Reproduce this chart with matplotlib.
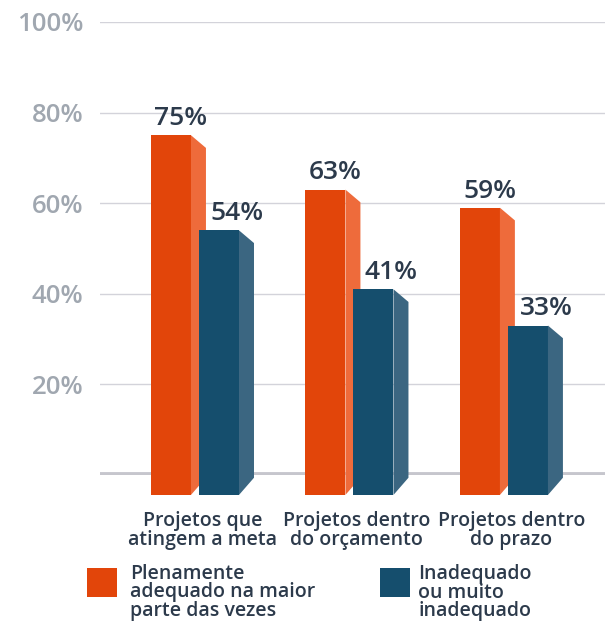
import matplotlib
matplotlib.use("Agg")
import matplotlib.pyplot as plt
from matplotlib.patches import Polygon, Rectangle

# data
categories = ["Projetos que\natingem a meta", "Projetos dentro\ndo orçamento", "Projetos dentro\ndo prazo"]
adequado = [75, 63, 59]
inadequado = [54, 41, 33]
series_labels = ["Plenamente\nadequado na maior\nparte das vezes", "Inadequado\nou muito\ninadequado"]
yticks = [20, 40, 60, 80, 100]

ORANGE, ORANGE_SIDE = "#e2450a", "#ee6b3b"
BLUE, BLUE_SIDE = "#154e6d", "#3b6681"
TEXT = "#2c3a4b"
GRAY_TXT = "#a0a7b0"

plt.rcParams["font.family"] = ["Open Sans", "DejaVu Sans"]

fig = plt.figure(figsize=(6.06, 6.21), dpi=100)
ax = fig.add_axes([0.165, 0.2351, 0.833, 0.7295])
ax.set_xlim(-0.663, 2.605)
ax.set_ylim(0, 100)

bar_w = 0.259
gap = 0.052
depth_x = 0.097
top_drop = 2.8
bottom_rise = 3.8
floor = -4.4


def draw_bar(left, value, front, side, z):
    ax.bar(left, value - floor, width=bar_w, bottom=floor, align="edge",
           color=front, zorder=z, clip_on=False, linewidth=0)
    r = left + bar_w
    poly = Polygon([(r, value), (r + depth_x, value - top_drop),
                    (r + depth_x, floor + bottom_rise), (r, floor)],
                   closed=True, facecolor=side, edgecolor="none",
                   zorder=z, clip_on=False)
    ax.add_patch(poly)


for i, (a, b) in enumerate(zip(adequado, inadequado)):
    left_a = i - 0.333
    left_b = left_a + bar_w + gap
    draw_bar(left_a, a, ORANGE, ORANGE_SIDE, 3 + 2 * i)
    draw_bar(left_b, b, BLUE, BLUE_SIDE, 4 + 2 * i)
    ax.annotate(f"{a}%", (left_a + 0.194, a), xytext=(0, 3), textcoords="offset points",
                ha="center", va="bottom", fontsize=19, color=TEXT,
                fontweight="semibold", zorder=10)
    ax.annotate(f"{b}%", (left_b + 0.246, b), xytext=(0, 3), textcoords="offset points",
                ha="center", va="bottom", fontsize=19, color=TEXT,
                fontweight="semibold", zorder=10)

# gridlines and base line
for t in yticks:
    ax.axhline(t, color="#d3d3da", linewidth=1.0, zorder=1)
ax.axhline(0, color="#c6c6cd", linewidth=4.2, zorder=2)

for s in ax.spines.values():
    s.set_visible(False)
ax.set_yticks(yticks)
ax.set_yticklabels([f"{t}%" for t in yticks], fontsize=18.5, color=GRAY_TXT,
                   fontweight="semibold")
ax.tick_params(axis="y", length=0, pad=12)
ax.set_xticks(range(len(categories)))
ax.set_xticklabels(categories, fontsize=14, color=TEXT, linespacing=0.95,
                   fontweight="semibold")
ax.tick_params(axis="x", length=0, pad=26)

# legend drawn by hand so the swatch sits at the top of the 3-line labels
legend_items = [(ORANGE, series_labels[0], 87), (BLUE, series_labels[1], 380)]
for color, label, px in legend_items:
    fig.add_artist(Rectangle((px / 606, 1 - 597 / 621), 30 / 606, 29 / 621,
                             transform=fig.transFigure, facecolor=color,
                             edgecolor="none"))
    fig.text((px + 43 if px < 200 else px + 38) / 606, 1 - 564 / 621, label,
             fontsize=14, color=TEXT, va="top", ha="left", linespacing=0.9,
             fontweight="semibold")

fig.savefig("out.png", dpi=100)
